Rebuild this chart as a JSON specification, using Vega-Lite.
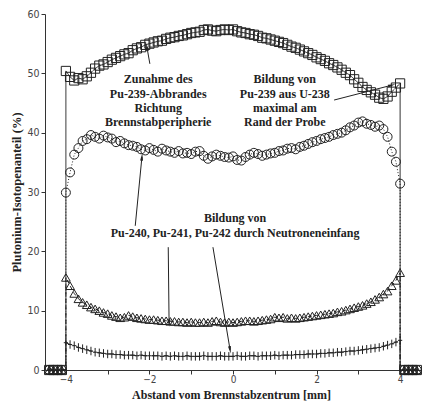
{
  "$schema": "https://vega.github.io/schema/vega-lite/v6.json",
  "width": 376,
  "height": 356,
  "autosize": "none",
  "padding": {"left": 45, "top": 14, "right": 4, "bottom": 31},
  "background": "white",
  "config": {
    "view": {"stroke": null},
    "axis": {
      "grid": false,
      "labelFont": "Liberation Sans Narrow, DejaVu Sans Condensed, DejaVu Sans",
      "labelFontSize": 10.5,
      "labelColor": "#444",
      "titleFont": "Liberation Serif",
      "titleFontWeight": "bold",
      "titleFontSize": 12.5,
      "titleColor": "#222",
      "domainColor": "#333",
      "tickColor": "#333",
      "tickSize": 4
    }
  },
  "datasets": {
    "profile": [
      {"x":-4.4,"S":0,"C":0,"T":0,"P":0},
      {"x":-4.3,"S":0,"C":0,"T":0,"P":0},
      {"x":-4.2,"S":0,"C":0,"T":0,"P":0},
      {"x":-4.1,"S":0,"C":0,"T":0,"P":0},
      {"x":-4,"S":0,"C":0,"T":0,"P":0},
      {"x":-4,"S":50.4,"C":29.9,"T":15.6,"P":4.6},
      {"x":-3.9,"S":49.4,"C":33.3,"T":14.2,"P":4.3},
      {"x":-3.8,"S":48.8,"C":36.3,"T":12.9,"P":4.1},
      {"x":-3.7,"S":49.2,"C":37.4,"T":12.0,"P":3.8},
      {"x":-3.6,"S":49.0,"C":38.6,"T":11.4,"P":3.6},
      {"x":-3.5,"S":49.5,"C":38.9,"T":11.0,"P":3.4},
      {"x":-3.4,"S":50.1,"C":39.6,"T":10.6,"P":3.2},
      {"x":-3.3,"S":50.8,"C":39.3,"T":10.3,"P":3.0},
      {"x":-3.2,"S":51.3,"C":39.0,"T":10.0,"P":2.9},
      {"x":-3.1,"S":51.5,"C":39.5,"T":9.7,"P":2.8},
      {"x":-3.0,"S":51.9,"C":39.2,"T":9.5,"P":2.7},
      {"x":-2.9,"S":52.3,"C":39.0,"T":9.2,"P":2.7},
      {"x":-2.8,"S":52.6,"C":38.4,"T":9.0,"P":2.6},
      {"x":-2.7,"S":52.9,"C":38.6,"T":8.8,"P":2.6},
      {"x":-2.6,"S":53.2,"C":38.2,"T":8.9,"P":2.5},
      {"x":-2.5,"S":53.4,"C":37.9,"T":9.2,"P":2.5},
      {"x":-2.4,"S":53.9,"C":37.8,"T":9.0,"P":2.5},
      {"x":-2.3,"S":54.2,"C":37.6,"T":8.8,"P":2.4},
      {"x":-2.2,"S":54.4,"C":37.2,"T":8.7,"P":2.5},
      {"x":-2.1,"S":54.8,"C":37.0,"T":8.6,"P":2.4},
      {"x":-2.0,"S":55.0,"C":37.4,"T":8.5,"P":2.4},
      {"x":-1.9,"S":55.2,"C":37.1,"T":8.5,"P":2.4},
      {"x":-1.8,"S":55.4,"C":36.8,"T":8.4,"P":2.4},
      {"x":-1.7,"S":55.5,"C":37.3,"T":8.3,"P":2.3},
      {"x":-1.6,"S":55.8,"C":37.0,"T":8.3,"P":2.4},
      {"x":-1.5,"S":56.0,"C":36.8,"T":8.2,"P":2.3},
      {"x":-1.4,"S":56.1,"C":36.6,"T":8.2,"P":2.4},
      {"x":-1.3,"S":56.3,"C":36.9,"T":8.1,"P":2.3},
      {"x":-1.2,"S":56.4,"C":36.5,"T":8.1,"P":2.3},
      {"x":-1.1,"S":56.6,"C":36.6,"T":8.0,"P":2.4},
      {"x":-1.0,"S":56.8,"C":36.4,"T":8.1,"P":2.3},
      {"x":-0.9,"S":56.9,"C":36.8,"T":8.0,"P":2.3},
      {"x":-0.8,"S":57.0,"C":36.9,"T":8.0,"P":2.3},
      {"x":-0.7,"S":57.3,"C":36.1,"T":8.1,"P":2.4},
      {"x":-0.6,"S":57.4,"C":35.6,"T":8.0,"P":2.3},
      {"x":-0.5,"S":57.2,"C":36.0,"T":8.2,"P":2.3},
      {"x":-0.4,"S":57.1,"C":36.3,"T":8.3,"P":2.3},
      {"x":-0.3,"S":57.3,"C":36.1,"T":8.1,"P":2.4},
      {"x":-0.2,"S":57.4,"C":35.9,"T":8.0,"P":2.3},
      {"x":-0.1,"S":57.3,"C":35.8,"T":8.1,"P":2.3},
      {"x":0,"S":57.4,"C":36.0,"T":8.0,"P":2.3},
      {"x":0.1,"S":57.1,"C":35.4,"T":8.1,"P":2.4},
      {"x":0.2,"S":56.9,"C":35.3,"T":8.2,"P":2.3},
      {"x":0.3,"S":56.8,"C":35.9,"T":8.3,"P":2.3},
      {"x":0.4,"S":56.6,"C":36.3,"T":8.3,"P":2.4},
      {"x":0.5,"S":56.5,"C":36.6,"T":8.2,"P":2.4},
      {"x":0.6,"S":56.3,"C":36.4,"T":8.3,"P":2.3},
      {"x":0.7,"S":56.0,"C":36.1,"T":8.4,"P":2.4},
      {"x":0.8,"S":55.9,"C":36.3,"T":8.5,"P":2.4},
      {"x":0.9,"S":55.7,"C":36.5,"T":8.6,"P":2.4},
      {"x":1.0,"S":55.5,"C":36.6,"T":8.9,"P":2.5},
      {"x":1.1,"S":55.3,"C":36.9,"T":8.8,"P":2.4},
      {"x":1.2,"S":55.1,"C":37.0,"T":8.9,"P":2.5},
      {"x":1.3,"S":54.8,"C":37.3,"T":8.7,"P":2.5},
      {"x":1.4,"S":54.5,"C":37.4,"T":8.8,"P":2.5},
      {"x":1.5,"S":54.3,"C":37.2,"T":8.7,"P":2.6},
      {"x":1.6,"S":54.0,"C":37.6,"T":8.8,"P":2.6},
      {"x":1.7,"S":53.7,"C":37.8,"T":8.9,"P":2.6},
      {"x":1.8,"S":53.4,"C":38.1,"T":9.0,"P":2.7},
      {"x":1.9,"S":53.1,"C":38.4,"T":9.1,"P":2.7},
      {"x":2.0,"S":52.7,"C":38.6,"T":9.2,"P":2.7},
      {"x":2.1,"S":52.4,"C":38.9,"T":9.3,"P":2.8},
      {"x":2.2,"S":52.1,"C":39.1,"T":9.4,"P":2.8},
      {"x":2.3,"S":51.7,"C":39.3,"T":9.5,"P":2.9},
      {"x":2.4,"S":51.4,"C":39.6,"T":9.6,"P":2.9},
      {"x":2.5,"S":51.0,"C":39.8,"T":9.8,"P":3.0},
      {"x":2.6,"S":50.6,"C":40.0,"T":9.9,"P":3.0},
      {"x":2.7,"S":50.1,"C":40.4,"T":10.1,"P":3.1},
      {"x":2.8,"S":49.7,"C":40.9,"T":10.3,"P":3.2},
      {"x":2.9,"S":49.0,"C":41.2,"T":10.5,"P":3.2},
      {"x":3.0,"S":48.4,"C":41.7,"T":10.7,"P":3.3},
      {"x":3.1,"S":47.7,"C":41.9,"T":10.9,"P":3.4},
      {"x":3.2,"S":47.2,"C":41.5,"T":11.2,"P":3.5},
      {"x":3.3,"S":46.8,"C":41.3,"T":11.5,"P":3.6},
      {"x":3.4,"S":46.4,"C":41.0,"T":11.9,"P":3.7},
      {"x":3.5,"S":45.9,"C":41.2,"T":12.3,"P":3.8},
      {"x":3.6,"S":45.7,"C":40.6,"T":12.8,"P":4.0},
      {"x":3.7,"S":46.1,"C":39.3,"T":13.3,"P":4.2},
      {"x":3.8,"S":46.9,"C":36.8,"T":14.2,"P":4.4},
      {"x":3.9,"S":47.6,"C":35.1,"T":15.1,"P":4.7},
      {"x":4.0,"S":48.3,"C":31.4,"T":16.4,"P":5.0},
      {"x":4,"S":0,"C":0,"T":0,"P":0},
      {"x":4.1,"S":0,"C":0,"T":0,"P":0},
      {"x":4.2,"S":0,"C":0,"T":0,"P":0},
      {"x":4.3,"S":0,"C":0,"T":0,"P":0},
      {"x":4.4,"S":0,"C":0,"T":0,"P":0}
    ],
    "notes": [
      {"x":-1.79,"y":49.0,"label":"Zunahme des"},
      {"x":-1.79,"y":46.6,"label":"Pu-239-Abbrandes"},
      {"x":-1.79,"y":44.2,"label":"Richtung"},
      {"x":-1.79,"y":41.8,"label":"Brennstabperipherie"},
      {"x":1.24,"y":49.0,"label":"Bildung von"},
      {"x":1.24,"y":46.6,"label":"Pu-239 aus U-238"},
      {"x":1.24,"y":44.2,"label":"maximal am"},
      {"x":1.24,"y":41.8,"label":"Rand der Probe"},
      {"x":0.05,"y":25.6,"label":"Bildung von"},
      {"x":0.05,"y":23.1,"label":"Pu-240, Pu-241, Pu-242 durch Neutroneneinfang"}
    ],
    "arrows": [
      {"x":-1.99,"y":51.6,"x2":-2.06,"y2":54.4},
      {"x":2.42,"y":45.5,"x2":3.8,"y2":48.0},
      {"x":-2.34,"y":24.3,"x2":-2.18,"y2":35.9},
      {"x":-1.55,"y":20.7,"x2":-1.53,"y2":7.9},
      {"x":-0.48,"y":20.7,"x2":-0.07,"y2":3.4}
    ]
  },
  "layer": [
    {
      "data": {"name": "profile"},
      "transform": [
        {"window": [{"op": "row_number", "as": "i"}]},
        {"fold": ["S", "C", "T", "P"], "as": ["series", "v"]}
      ],
      "layer": [
        {
          "mark": {"type": "line", "color": "#222", "strokeWidth": 1},
          "encoding": {
            "x": {"field": "x", "type": "quantitative",
              "scale": {"domain": [-4.5, 4.5], "nice": false, "zero": false},
              "axis": {
                "title": "Abstand vom Brennstabzentrum [mm]",
                "values": [-4, -3, -2, -1, 0, 1, 2, 3, 4],
                "labelExpr": "datum.value % 2 === 0 ? datum.label : ''",
                "labelPadding": 0,
                "labelFontSize": 10,
                "titleFontSize": 12,
                "titleX": 186, "titleY": 24,
                "titleAlign": "center", "titleBaseline": "middle"
              }},
            "y": {"field": "v", "type": "quantitative",
              "scale": {"domain": [0, 60], "nice": false},
              "axis": {
                "title": "Plutonium-Isotopenanteil (%)",
                "values": [0, 5, 10, 15, 20, 25, 30, 35, 40, 45, 50, 55, 60],
                "labelExpr": "datum.value % 10 === 0 ? datum.label : ''",
                "labelPadding": 2,
                "titleX": -29, "titleY": 178, "titleAngle": -90,
                "titleAlign": "center", "titleBaseline": "middle"
              }},
            "strokeDash": {"field": "series", "type": "nominal",
              "scale": {"domain": ["S", "C", "T", "P"], "range": [[1, 0], [1, 2], [4, 3], [6, 2, 1, 2]]},
              "legend": null},
            "order": {"field": "i", "type": "quantitative"}
          }
        },
        {
          "transform": [{"filter": "datum.v > 0 || abs(datum.x) > 4.05"}],
          "mark": {"type": "point", "filled": false, "color": "#222", "strokeWidth": 1, "opacity": 1},
          "encoding": {
            "x": {"field": "x", "type": "quantitative"},
            "y": {"field": "v", "type": "quantitative"},
            "shape": {"field": "series", "type": "nominal",
              "scale": {"domain": ["S", "C", "T", "P"], "range": ["square", "circle", "triangle-up", "M-0.5,0H0.5M0,-1V1"]},
              "legend": null},
            "size": {"field": "series", "type": "nominal",
              "scale": {"domain": ["S", "C", "T", "P"], "range": [85, 72, 50, 60]},
              "legend": null}
          }
        }
      ]
    },
    {
      "data": {"name": "notes"},
      "mark": {"type": "text", "font": "Liberation Serif", "fontWeight": "bold", "fontSize": 12, "color": "#222", "align": "center", "baseline": "middle"},
      "encoding": {
        "x": {"field": "x", "type": "quantitative"},
        "y": {"field": "y", "type": "quantitative"},
        "text": {"field": "label"}
      }
    },
    {
      "data": {"name": "arrows"},
      "mark": {"type": "rule", "color": "#222", "strokeWidth": 1},
      "encoding": {
        "x": {"field": "x", "type": "quantitative"},
        "y": {"field": "y", "type": "quantitative"},
        "x2": {"field": "x2"},
        "y2": {"field": "y2"}
      }
    },
    {
      "data": {"name": "arrows"},
      "transform": [{"calculate": "atan2((datum.x2 - datum.x) * 41.8, (datum.y2 - datum.y) * 5.933) * 180 / PI", "as": "ang"}],
      "mark": {"type": "point", "filled": true, "color": "#222", "opacity": 1, "shape": "M0,-1L0.4,1L-0.4,1Z", "size": 55},
      "encoding": {
        "x": {"field": "x2", "type": "quantitative"},
        "y": {"field": "y2", "type": "quantitative"},
        "angle": {"field": "ang", "type": "quantitative", "scale": null}
      }
    }
  ]
}
